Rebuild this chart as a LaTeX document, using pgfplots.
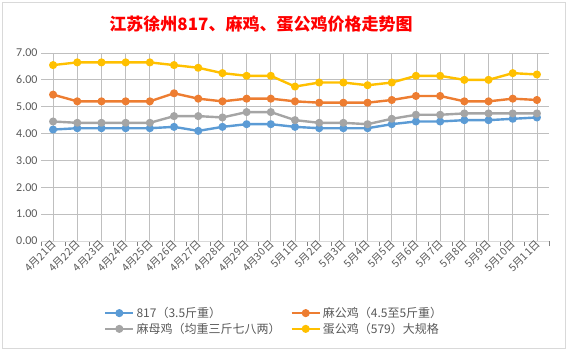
\documentclass[border=0pt]{standalone}
\usepackage{pgfplots}
\pgfplotsset{compat=1.18}
\usepackage{fontspec}
\setmainfont{Carlito}
\newfontfamily\cjk{Noto Sans CJK SC}
\definecolor{cblue}{HTML}{5B9BD5}
\definecolor{corange}{HTML}{ED7D31}
\definecolor{cgray}{HTML}{A5A5A5}
\definecolor{cyellow}{HTML}{FFC000}
\definecolor{grid}{HTML}{D9D9D9}
\definecolor{txt}{HTML}{595959}
\begin{document}
\begin{tikzpicture}[x=1bp,y=1bp]
\path (0,0) rectangle (567,352);
\draw[grid, line width=0.75bp] (2.5,3.5) rectangle (565,350);
\node[text=red, font={\cjk\bfseries\fontsize{17bp}{20bp}\selectfont}] at (261,328) {江苏徐州817、麻鸡、蛋公鸡价格走势图};
\begin{axis}[
  at={(41bp,111bp)}, anchor=south west,
  scale only axis, width=508bp, height=188bp,
  xmin=-0.5, xmax=20.5, ymin=0, ymax=7,
  ytick={0,1,...,7},
  xtick={0,1,...,20},
  minor xtick={-0.5,0.5,...,20.5},
  xticklabels={4月21日,4月22日,4月23日,4月24日,4月25日,4月26日,4月27日,4月28日,4月29日,4月30日,5月1日,5月2日,5月3日,5月4日,5月5日,5月6日,5月7日,5月8日,5月9日,5月10日,5月11日},
  axis y line*=left, axis x line*=bottom,
  y axis line style={draw=none},
  x axis line style={grid, line width=0.75bp},
  ymajorgrids, major grid style={grid, line width=0.75bp},
  major tick length=0pt, minor tick length=5bp,
  tick align=outside,
  minor tick style={grid, line width=0.75bp},
  ytick style={draw=none},
  yticklabel style={text=txt, font=\fontsize{12bp}{14bp}\selectfont, /pgf/number format/.cd, fixed, fixed zerofill, precision=2, assume math mode=true},
  xticklabel style={text=txt, font={\cjk\fontsize{10.5bp}{12bp}\selectfont}, rotate=45, anchor=east, xshift=3bp, yshift=-2bp},
  legend columns=2,
  legend style={at={(0.118,-0.33)}, anchor=north west, draw=none, fill=none,
    font={\cjk\fontsize{12bp}{15bp}\selectfont}, text=txt, row sep=0bp,
    /tikz/every even column/.append style={column sep=8bp}},
  legend cell align=left,
  legend image code/.code={\draw[#1, mark repeat=2, mark phase=2] plot coordinates {(0bp,0bp) (14bp,0bp) (28bp,0bp)};},
  every axis plot/.append style={line width=2.4bp, line join=round, mark=*, mark size=2.8bp},
  clip=false,
]
\addplot[color=cblue, mark options={fill=cblue}] coordinates {
(0,4.15)(1,4.2)(2,4.2)(3,4.2)(4,4.2)(5,4.25)(6,4.1)(7,4.25)(8,4.35)(9,4.35)(10,4.25)
(11,4.2)(12,4.2)(13,4.2)(14,4.35)(15,4.45)(16,4.45)(17,4.5)(18,4.5)(19,4.55)(20,4.6)};
\addlegendentry{817（3.5斤重）}
\addplot[color=corange, mark options={fill=corange}] coordinates {
(0,5.45)(1,5.2)(2,5.2)(3,5.2)(4,5.2)(5,5.5)(6,5.3)(7,5.2)(8,5.3)(9,5.3)(10,5.2)
(11,5.15)(12,5.15)(13,5.15)(14,5.25)(15,5.4)(16,5.4)(17,5.2)(18,5.2)(19,5.3)(20,5.25)};
\addlegendentry{麻公鸡（4.5至5斤重）}
\addplot[color=cgray, mark options={fill=cgray}] coordinates {
(0,4.45)(1,4.4)(2,4.4)(3,4.4)(4,4.4)(5,4.65)(6,4.65)(7,4.6)(8,4.8)(9,4.8)(10,4.5)
(11,4.4)(12,4.4)(13,4.35)(14,4.55)(15,4.7)(16,4.7)(17,4.75)(18,4.75)(19,4.75)(20,4.75)};
\addlegendentry{麻母鸡（均重三斤七八两）}
\addplot[color=cyellow, mark options={fill=cyellow}] coordinates {
(0,6.55)(1,6.65)(2,6.65)(3,6.65)(4,6.65)(5,6.55)(6,6.45)(7,6.25)(8,6.15)(9,6.15)(10,5.75)
(11,5.9)(12,5.9)(13,5.8)(14,5.9)(15,6.15)(16,6.15)(17,6.0)(18,6.0)(19,6.25)(20,6.2)};
\addlegendentry{蛋公鸡（579）大规格}
\end{axis}
\end{tikzpicture}
\end{document}
